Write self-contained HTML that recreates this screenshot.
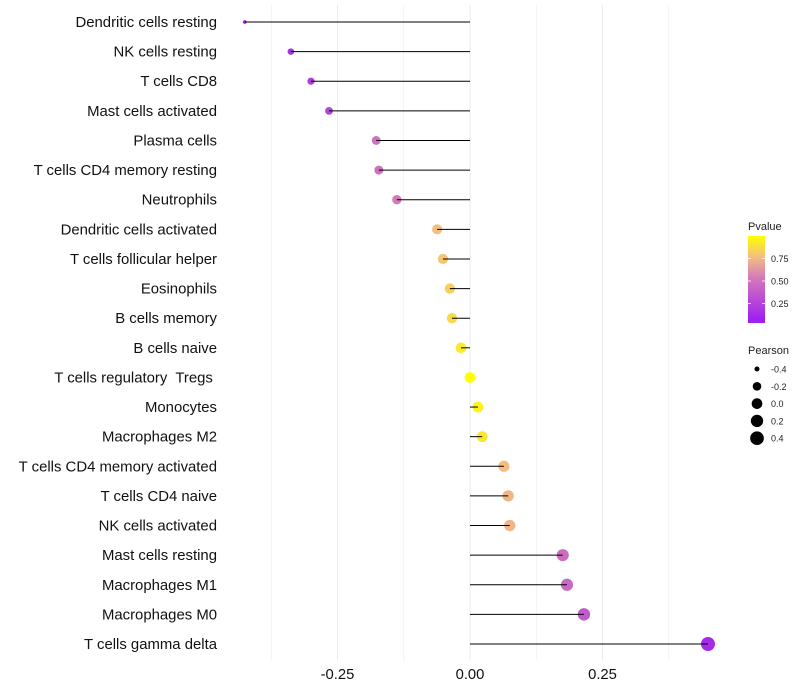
<!DOCTYPE html>
<html><head><meta charset="utf-8"><style>
body{margin:0;background:#fff;font-family:"Liberation Sans",sans-serif}
svg{display:block}
</style></head><body>
<svg id="chart" width="800" height="700"></svg>
<script>
const categories=["Dendritic cells resting","NK cells resting","T cells CD8","Mast cells activated","Plasma cells","T cells CD4 memory resting","Neutrophils","Dendritic cells activated","T cells follicular helper","Eosinophils","B cells memory","B cells naive","T cells regulatory\u00a0 Tregs\u00a0","Monocytes","Macrophages M2","T cells CD4 memory activated","T cells CD4 naive","NK cells activated","Mast cells resting","Macrophages M1","Macrophages M0","T cells gamma delta"];
const pearson=[-0.425,-0.338,-0.300,-0.266,-0.177,-0.172,-0.138,-0.062,-0.051,-0.038,-0.034,-0.017,0.000,0.015,0.023,0.064,0.072,0.075,0.175,0.183,0.215,0.449];
const pvalue=[0.05,0.1,0.15,0.2,0.45,0.45,0.5,0.75,0.78,0.82,0.85,0.92,1.0,0.95,0.9,0.75,0.72,0.72,0.42,0.4,0.32,0.06];
const xTicks=[-0.25,0,0.25];
const xTickLabels=["-0.25","0.00","0.25"];
const pTicks=[0.25,0.5,0.75];
const sizeTicks=[-0.4,-0.2,0.0,0.2,0.4];

const NS="http://www.w3.org/2000/svg";
const svg=document.getElementById('chart');
function mk(t,a,p){const e=document.createElementNS(NS,t);for(const k in a)e.setAttribute(k,a[k]);(p||svg).appendChild(e);return e;}
const x=v=>470+v*530;
const y=i=>22+i*(622/21);
const r=v=>1.5+5.5*Math.sqrt(Math.max(0,(v+0.43)/0.88));
function lerp(a,b,t){return a.map((c,i)=>Math.round(c+(b[i]-c)*t));}
const stops=[[0,[160,32,240]],[0.5,[212,122,184]],[0.75,[244,190,128]],[1,[255,255,0]]];
function col(p){for(let i=1;i<stops.length;i++){if(p<=stops[i][0]){const t=(p-stops[i-1][0])/(stops[i][0]-stops[i-1][0]);const c=lerp(stops[i-1][1],stops[i][1],t);return `rgb(${c})`;}}return 'rgb(255,255,0)';}

[-0.375,-0.25,-0.125,0,0.125,0.25,0.375].forEach(v=>{
 const g=mk('line',{x1:x(v),x2:x(v),y1:5,y2:660,stroke:'#ebebeb','stroke-width':v*8%2===0?1:0.6});
 
 
});
xTicks.forEach((v,i)=>{
 const t=mk('text',{x:x(v),y:679,'text-anchor':'middle','font-size':14.8,fill:'#111'});
 t.textContent=xTickLabels[i];
 
 
});
categories.forEach((c,i)=>{
 const t=mk('text',{x:217,y:y(i)+5,'text-anchor':'end','font-size':14.9,fill:'#111'});
 t.textContent=c;
 
 
 const d=mk('circle',{cx:x(pearson[i]),cy:y(i),r:r(pearson[i]),fill:col(pvalue[i])});
 
 
 const l=mk('line',{x1:x(0),x2:x(pearson[i]),y1:y(i),y2:y(i),stroke:'#000','stroke-width':1});
 
 
});
const defs=mk('defs',{});
const gr=mk('linearGradient',{id:'pg',x1:0,y1:1,x2:0,y2:0},defs);
[[0,'rgb(160,32,240)'],[0.5,'rgb(212,122,184)'],[0.75,'rgb(244,190,128)'],[1,'rgb(255,255,0)']].forEach(s=>mk('stop',{offset:(0.04+s[0]*0.96)*100+'%','stop-color':s[1]},gr));
const lt=mk('text',{x:748,y:230,'font-size':11,fill:'#222'});lt.textContent='Pvalue';


const bar=mk('rect',{x:748,y:236,width:17,height:87,fill:'url(#pg)'});


const py=p=>326-p*90;
pTicks.forEach(p=>{
 mk('line',{x1:748,x2:751,y1:py(p),y2:py(p),stroke:'#fff','stroke-width':0.8});
 mk('line',{x1:762,x2:765,y1:py(p),y2:py(p),stroke:'#fff','stroke-width':0.8});
 const t=mk('text',{x:771,y:py(p)+3.5,'font-size':9,fill:'#222'});t.textContent=p.toFixed(2);
 
 
});
const st=mk('text',{x:748,y:354,'font-size':11,fill:'#222'});st.textContent='Pearson';


sizeTicks.forEach((v,i)=>{
 const cy=369+i*17.3;
 const c=mk('circle',{cx:757,cy:cy,r:r(v),fill:'#000'});
 
 
 const t=mk('text',{x:771,y:cy+3.5,'font-size':9,fill:'#222'});t.textContent=v.toFixed(1);
 
 
});
</script>
</body></html>
